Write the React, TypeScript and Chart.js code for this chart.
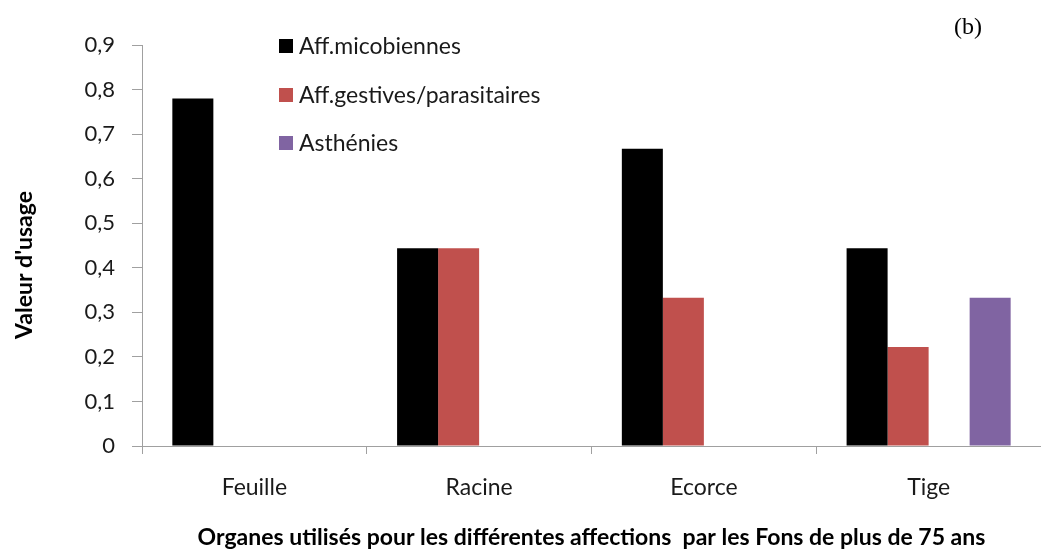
import React, { useEffect, useRef } from "react";
import { Chart, registerables } from "chart.js";

Chart.register(...registerables);

const categories = ["Feuille", "Racine", "Ecorce", "Tige"];
const seriesNames = ["Aff.micobiennes", "Aff.gestives/parasitaires", "", "Asthénies"];
const microbiennes = [0.78, 0.444, 0.667, 0.444];
const digestives = [null, 0.444, 0.333, 0.222];
const emptySeries = [null, null, null, null];
const asthenies = [null, null, null, 0.333];
const seriesColors = ["#000000", "#C0504D", "#4BACC6", "#8064A2"];
const yTickLabels = ["0", "0,1", "0,2", "0,3", "0,4", "0,5", "0,6", "0,7", "0,8", "0,9"];
const xTitle = "Organes utilisés pour les différentes affections  par les Fons de plus de 75 ans";
const yTitle = "Valeur d'usage";
const panelLabel = "(b)";

const FONT = "Lato, 'Open Sans', sans-serif";
const AXIS = "#A0A0A0";

const overlayPlugin = {
  id: "overlay",
  afterDraw(chart: any) {
    const ctx = chart.ctx;
    ctx.save();
    // legend
    const rows = [46, 95, 143];
    let r = 0;
    chart.data.datasets.forEach((ds: any) => {
      if (!ds.label) return;
      const y = rows[r++];
      ctx.fillStyle = ds.backgroundColor;
      ctx.fillRect(279, y - 7, 14, 14);
      ctx.fillStyle = "#1a1a1a";
      ctx.font = `23px ${FONT}`;
      ctx.textBaseline = "middle";
      ctx.textAlign = "left";
      ctx.fillText(ds.label, 299, y + 1);
    });
    // y title
    ctx.translate(25, 265);
    ctx.rotate(-Math.PI / 2);
    ctx.font = `bold 23px ${FONT}`;
    ctx.fillStyle = "#000";
    ctx.textAlign = "center";
    ctx.textBaseline = "middle";
    ctx.fillText(yTitle, 0, 0);
    ctx.setTransform(1, 0, 0, 1, 0, 0);
    // panel label
    ctx.font = `24px 'Liberation Serif', 'DejaVu Serif', serif`;
    ctx.fillStyle = "#000";
    ctx.textAlign = "center";
    ctx.textBaseline = "middle";
    ctx.fillText(panelLabel, 968, 28);
    ctx.restore();
  },
};

export default function App() {
  const ref = useRef<HTMLCanvasElement>(null);
  useEffect(() => {
    const values = [microbiennes, digestives, emptySeries, asthenies];
    const chart = new Chart(ref.current!, {
      type: "bar",
      data: {
        labels: categories,
        datasets: values.map((d, i) => ({
          label: seriesNames[i],
          data: d as any,
          backgroundColor: seriesColors[i],
          borderWidth: 0,
          categoryPercentage: 0.73,
          barPercentage: 1,
        })),
      },
      options: {
        responsive: false,
        animation: false,
        layout: { padding: { top: 45, right: 0, left: 0, bottom: 0 } },
        plugins: { legend: { display: false }, tooltip: { enabled: false } },
        scales: {
          x: {
            grid: { display: true, drawOnChartArea: false, tickLength: 8, color: AXIS, offset: true },
            border: { color: AXIS, width: 1 },
            ticks: { color: "#1a1a1a", font: { family: FONT, size: 23 }, padding: 20 },
            title: {
              display: true,
              text: xTitle,
              color: "#000",
              font: { family: FONT, size: 23, weight: "bold" },
              padding: { top: 0, bottom: 0 },
            },
            afterFit(scale: any) {
              scale.height = 105;
            },
          },
          y: {
            min: 0,
            max: 0.9,
            grid: { display: true, drawOnChartArea: false, tickLength: 10, color: AXIS },
            border: { color: AXIS, width: 1 },
            ticks: {
              stepSize: 0.1,
              color: "#1a1a1a",
              font: { family: FONT, size: 22 },
              padding: 17,
              callback: (_v: any, i: number) => yTickLabels[i],
            },
            afterFit(scale: any) {
              scale.width = 142;
            },
          },
        },
      },
      plugins: [overlayPlugin],
    });
    return () => chart.destroy();
  }, []);
  return (
    <div style={{ position: "fixed", left: 0, top: 0, width: 1041, height: 551, background: "#fff" }}>
      <canvas ref={ref} width={1041} height={551} style={{ display: "block" }} />
    </div>
  );
}
